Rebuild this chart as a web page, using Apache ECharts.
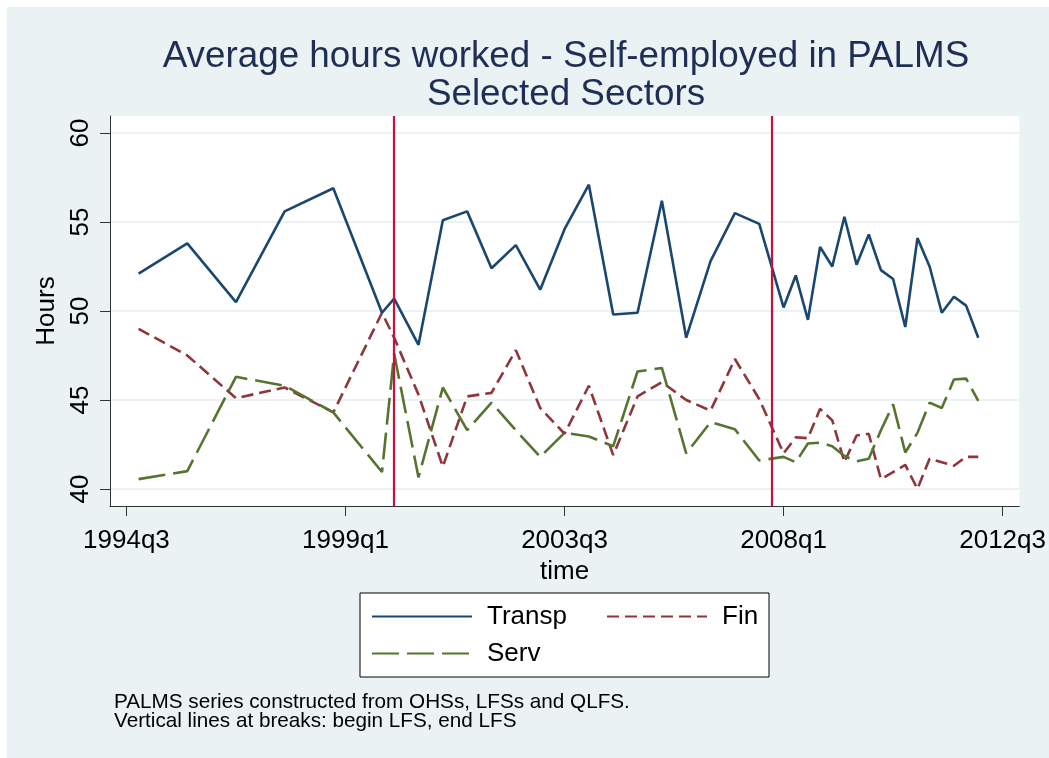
<!DOCTYPE html>
<html>
<head>
<meta charset="utf-8">
<script src="https://cdn.jsdelivr.net/npm/echarts@6/dist/echarts.min.js"></script>
<style>
  html, body { margin: 0; padding: 0; background: #fff; }
  #chart { width: 1049px; height: 758px; }
</style>
</head>
<body>
<div id="chart"></div>
<script>
// Survey periods: annual OHS (q4), twice-yearly LFS (q1/q3), quarterly QLFS
const periods = [
  '1994q4', '1995q4', '1996q4', '1997q4', '1998q4', '1999q4',
  '2000q1', '2000q3', '2001q1', '2001q3', '2002q1', '2002q3', '2003q1', '2003q3',
  '2004q1', '2004q3', '2005q1', '2005q3', '2006q1', '2006q3', '2007q1', '2007q3',
  '2008q1', '2008q2', '2008q3', '2008q4', '2009q1', '2009q2', '2009q3', '2009q4',
  '2010q1', '2010q2', '2010q3', '2010q4', '2011q1', '2011q2', '2011q3', '2011q4',
  '2012q1'
];

// Average weekly hours, self-employed
const transp = [
  52.1, 53.8, 50.5, 55.6, 56.9, 49.9,
  50.7, 48.1, 55.1, 55.6, 52.4, 53.7, 51.2, 54.6,
  57.1, 49.8, 49.9, 56.2, 48.5, 52.8, 55.5, 54.9,
  50.2, 52.0, 49.5, 53.6, 52.5, 55.3, 52.6, 54.3,
  52.3, 51.8, 49.1, 54.1, 52.5, 49.9, 50.8, 50.3,
  48.5
];
const fin = [
  49.0, 47.5, 45.1, 45.7, 44.3, 49.9,
  48.5, 45.3, 41.25, 45.2, 45.4, 47.8, 44.55, 43.1,
  45.8, 41.9, 45.2, 46.0, 45.0, 44.4, 47.3, 45.05,
  42.0, 42.9, 42.85, 44.5, 43.85, 41.5, 43.0, 43.1,
  40.55, 40.95, 41.35, 40.0, 41.7, 41.5, 41.3, 41.8,
  41.8
];
const serv = [
  40.55, 41.0, 46.3, 45.8, 44.3, 40.95,
  47.6, 40.65, 45.7, 43.3, 44.85, 43.3, 41.8, 43.15,
  42.95, 42.4, 46.6, 46.8, 42.0, 43.75, 43.35, 41.6,
  41.8, 41.5, 42.55, 42.6, 42.4, 41.85, 41.55, 41.7,
  43.3, 44.75, 42.05, 43.15, 44.85, 44.55, 46.15, 46.2,
  44.95
];

// Series breaks (begin LFS, end LFS) and axis ticks
const breakPeriods = ['2000q1', '2007q4'];
const xTickPeriods = ['1994q3', '1999q1', '2003q3', '2008q1', '2012q3'];
const yTicks = [40, 45, 50, 55, 60];

const FONT = "'Liberation Sans', Arial, Helvetica, sans-serif";

// quarter string <-> running quarter number
function qIndex(p) {
  const y = +p.slice(0, 4), q = +p.slice(5);
  return y * 4 + q - 1;
}
function qLabel(v) {
  const n = Math.round(v);
  const y = Math.floor(n / 4);
  return y + 'q' + (n - y * 4 + 1);
}
function pairs(values) {
  return periods.map((p, i) => [qIndex(p), values[i]]);
}

const xTicks = xTickPeriods.map(qIndex);

const chart = echarts.init(document.getElementById('chart'), null, { renderer: 'canvas' });

const lineBase = {
  type: 'line',
  symbol: 'none',
  showSymbol: false,
  clip: false,
  animation: false,
  silent: true
};

chart.setOption({
  animation: false,
  backgroundColor: '#EAF2F3',
  textStyle: { fontFamily: FONT },
  graphic: [
    { type: 'rect', left: 0, top: 0, shape: { width: 1049, height: 7 }, style: { fill: '#fff' }, silent: true },
    { type: 'rect', left: 0, top: 0, shape: { width: 7, height: 758 }, style: { fill: '#fff' }, silent: true }
  ],
  title: [
    {
      text: 'Average hours worked - Self-employed in PALMS\nSelected Sectors',
      left: 566,
      top: 38,
      textAlign: 'center',
      padding: 0,
      textStyle: {
        fontFamily: FONT,
        fontSize: 36.8,
        fontWeight: 'normal',
        lineHeight: 38,
        color: '#1e2e55',
        align: 'center'
      }
    },
    {
      text: 'PALMS series constructed from OHSs, LFSs and QLFS.\nVertical lines at breaks: begin LFS, end LFS',
      left: 114,
      top: 693,
      padding: 0,
      textStyle: {
        fontFamily: FONT,
        fontSize: 20.7,
        fontWeight: 'normal',
        lineHeight: 19,
        color: '#000'
      }
    }
  ],
  legend: {
    left: 360,
    top: 593,
    width: 395,
    padding: [9, 9, 9, 11],
    backgroundColor: '#fff',
    borderColor: '#000',
    borderWidth: 1,
    borderRadius: 0,
    itemWidth: 100,
    itemHeight: 14,
    itemGap: 8,
    selectedMode: false,
    itemStyle: { opacity: 0, color: 'rgba(0,0,0,0)', borderWidth: 0 },
    textStyle: {
      fontFamily: FONT,
      fontSize: 26,
      color: '#000',
      lineHeight: 29,
      padding: [0, 0, 0, 10]
    },
    data: [
      { name: 'Transp', textStyle: { width: 111 } },
      { name: 'Fin', textStyle: { width: 38 } },
      { name: 'Serv', textStyle: { width: 111 } }
    ]
  },
  grid: {
    left: 110,
    right: 29,
    top: 116,
    bottom: 252,
    show: true,
    backgroundColor: '#fff',
    borderWidth: 0,
    containLabel: false
  },
  xAxis: {
    type: 'value',
    min: qIndex('1994q3') - 1.35,
    max: qIndex('2012q3') + 1.37,
    name: 'time',
    nameLocation: 'middle',
    nameGap: 37,
    nameTextStyle: { fontFamily: FONT, fontSize: 26, color: '#000' },
    axisLine: { show: true, onZero: false, lineStyle: { color: '#333', width: 1 } },
    axisTick: { show: true, length: 10, customValues: xTicks, lineStyle: { color: '#333', width: 1 } },
    axisLabel: {
      show: true,
      customValues: xTicks,
      formatter: qLabel,
      margin: 22,
      fontFamily: FONT,
      fontSize: 26,
      color: '#000',
      showMinLabel: true,
      showMaxLabel: true
    },
    splitLine: { show: false }
  },
  yAxis: {
    type: 'value',
    min: 39.04,
    max: 60.96,
    name: 'Hours',
    nameLocation: 'middle',
    nameGap: 37,
    nameRotate: 90,
    nameTextStyle: { fontFamily: FONT, fontSize: 26, color: '#000' },
    axisLine: { show: true, lineStyle: { color: '#333', width: 1 } },
    axisTick: { show: true, length: 10, customValues: yTicks, lineStyle: { color: '#333', width: 1 } },
    axisLabel: {
      show: true,
      customValues: yTicks,
      rotate: 90,
      margin: 16,
      fontFamily: FONT,
      fontSize: 26,
      color: '#000'
    },
    splitLine: { show: true, customValues: yTicks, lineStyle: { color: '#EAF2F3', width: 2 } }
  },
  series: [
    Object.assign({}, lineBase, {
      name: 'Transp',
      data: pairs(transp),
      color: '#1a476f',
      lineStyle: { color: '#1a476f', width: 2.6, type: 'solid' },
      z: 3,
      markLine: {
        silent: true,
        animation: false,
        symbol: ['none', 'none'],
        label: { show: false },
        lineStyle: { color: '#c8103a', width: 2.2, type: 'solid' },
        data: breakPeriods.map(p => ({ xAxis: qIndex(p) }))
      }
    }),
    Object.assign({}, lineBase, {
      name: 'Fin',
      data: pairs(fin),
      color: '#90353b',
      lineStyle: { color: '#90353b', width: 2.6, type: [12, 6] },
      z: 2
    }),
    Object.assign({}, lineBase, {
      name: 'Serv',
      data: pairs(serv),
      color: '#55752f',
      lineStyle: { color: '#55752f', width: 2.6, type: [27, 8] },
      z: 2
    })
  ]
});
</script>
</body>
</html>
